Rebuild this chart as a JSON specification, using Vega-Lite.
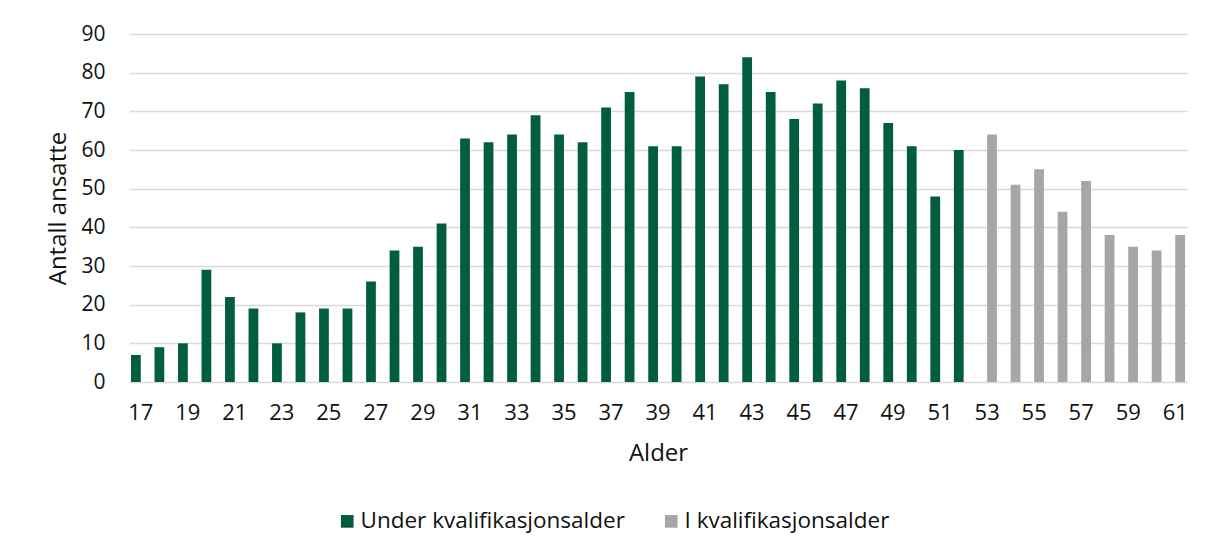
{
  "$schema": "https://vega.github.io/schema/vega-lite/v6.json",
  "autosize": {"type": "none"},
  "padding": {"left": 129, "top": 34, "right": 25, "bottom": 175},
  "width": 1058,
  "height": 348,
  "background": "white",
  "config": {
    "font": "Open Sans",
    "view": {"stroke": null},
    "axis": {"labelFont": "Open Sans", "titleFont": "Open Sans", "labelColor": "#111111", "titleColor": "#111111", "labelFontSize": 21, "titleFontSize": 24, "titleFontWeight": "normal"},
    "legend": {"labelFont": "Open Sans", "labelFontSize": 22.5, "labelColor": "#111111", "labelLimit": 500}
  },
  "data": {
    "values": [
      {"age": 17, "n": 7, "group": "Under kvalifikasjonsalder"},
      {"age": 18, "n": 9, "group": "Under kvalifikasjonsalder"},
      {"age": 19, "n": 10, "group": "Under kvalifikasjonsalder"},
      {"age": 20, "n": 29, "group": "Under kvalifikasjonsalder"},
      {"age": 21, "n": 22, "group": "Under kvalifikasjonsalder"},
      {"age": 22, "n": 19, "group": "Under kvalifikasjonsalder"},
      {"age": 23, "n": 10, "group": "Under kvalifikasjonsalder"},
      {"age": 24, "n": 18, "group": "Under kvalifikasjonsalder"},
      {"age": 25, "n": 19, "group": "Under kvalifikasjonsalder"},
      {"age": 26, "n": 19, "group": "Under kvalifikasjonsalder"},
      {"age": 27, "n": 26, "group": "Under kvalifikasjonsalder"},
      {"age": 28, "n": 34, "group": "Under kvalifikasjonsalder"},
      {"age": 29, "n": 35, "group": "Under kvalifikasjonsalder"},
      {"age": 30, "n": 41, "group": "Under kvalifikasjonsalder"},
      {"age": 31, "n": 63, "group": "Under kvalifikasjonsalder"},
      {"age": 32, "n": 62, "group": "Under kvalifikasjonsalder"},
      {"age": 33, "n": 64, "group": "Under kvalifikasjonsalder"},
      {"age": 34, "n": 69, "group": "Under kvalifikasjonsalder"},
      {"age": 35, "n": 64, "group": "Under kvalifikasjonsalder"},
      {"age": 36, "n": 62, "group": "Under kvalifikasjonsalder"},
      {"age": 37, "n": 71, "group": "Under kvalifikasjonsalder"},
      {"age": 38, "n": 75, "group": "Under kvalifikasjonsalder"},
      {"age": 39, "n": 61, "group": "Under kvalifikasjonsalder"},
      {"age": 40, "n": 61, "group": "Under kvalifikasjonsalder"},
      {"age": 41, "n": 79, "group": "Under kvalifikasjonsalder"},
      {"age": 42, "n": 77, "group": "Under kvalifikasjonsalder"},
      {"age": 43, "n": 84, "group": "Under kvalifikasjonsalder"},
      {"age": 44, "n": 75, "group": "Under kvalifikasjonsalder"},
      {"age": 45, "n": 68, "group": "Under kvalifikasjonsalder"},
      {"age": 46, "n": 72, "group": "Under kvalifikasjonsalder"},
      {"age": 47, "n": 78, "group": "Under kvalifikasjonsalder"},
      {"age": 48, "n": 76, "group": "Under kvalifikasjonsalder"},
      {"age": 49, "n": 67, "group": "Under kvalifikasjonsalder"},
      {"age": 50, "n": 61, "group": "Under kvalifikasjonsalder"},
      {"age": 51, "n": 48, "group": "Under kvalifikasjonsalder"},
      {"age": 52, "n": 60, "group": "Under kvalifikasjonsalder"},
      {"age": 53, "n": 64, "group": "I kvalifikasjonsalder"},
      {"age": 54, "n": 51, "group": "I kvalifikasjonsalder"},
      {"age": 55, "n": 55, "group": "I kvalifikasjonsalder"},
      {"age": 56, "n": 44, "group": "I kvalifikasjonsalder"},
      {"age": 57, "n": 52, "group": "I kvalifikasjonsalder"},
      {"age": 58, "n": 38, "group": "I kvalifikasjonsalder"},
      {"age": 59, "n": 35, "group": "I kvalifikasjonsalder"},
      {"age": 60, "n": 34, "group": "I kvalifikasjonsalder"},
      {"age": 61, "n": 38, "group": "I kvalifikasjonsalder"}
    ]
  },
  "mark": {"type": "bar"},
  "encoding": {
    "x": {
      "field": "age", "type": "ordinal", "title": "Alder",
      "scale": {"paddingInner": 0.17, "paddingOuter": 0.085},
      "axis": {"labelAngle": 0, "labelFontSize": 22, "values": [17,19,21,23,25,27,29,31,33,35,37,39,41,43,45,47,49,51,53,55,57,59,61], "domain": false, "ticks": false, "labelPadding": 20, "titlePadding": 18}
    },
    "xOffset": {
      "field": "group", "type": "nominal",
      "scale": {"domain": ["Under kvalifikasjonsalder", "I kvalifikasjonsalder"], "paddingInner": 0, "paddingOuter": 0}
    },
    "y": {
      "field": "n", "type": "quantitative", "title": "Antall ansatte",
      "scale": {"domain": [0, 90]},
      "axis": {"values": [0,10,20,30,40,50,60,70,80,90], "domain": false, "ticks": false, "grid": true, "gridColor": "#d9d9d9", "gridWidth": 1.3, "labelPadding": 24, "titlePadding": 10}
    },
    "color": {
      "field": "group", "type": "nominal",
      "scale": {"domain": ["Under kvalifikasjonsalder", "I kvalifikasjonsalder"], "range": ["#005E3C", "#A6A6A6"]},
      "legend": {"title": null, "orient": "none", "legendX": 207, "legendY": 476, "direction": "horizontal", "symbolType": "square", "symbolSize": 160, "symbolStrokeWidth": 0, "labelOffset": 2, "columnPadding": 35}
    }
  }
}
